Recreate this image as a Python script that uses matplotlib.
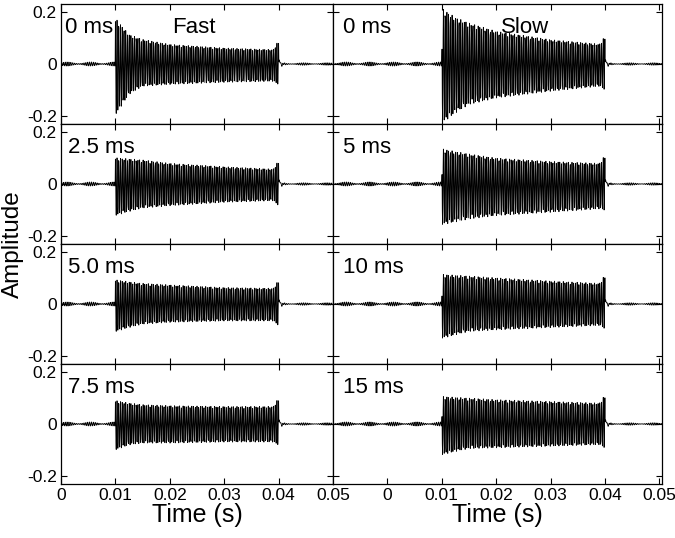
import numpy as np
import matplotlib
matplotlib.use('Agg')
import matplotlib.pyplot as plt

plt.rcParams['font.family'] = ['Liberation Sans', 'DejaVu Sans']

# envelope read-outs (seconds / amplitude) for every panel
env_times = [0.0102, 0.0125, 0.015, 0.02, 0.03, 0.039, 0.0398]

fast_labels = ['0 ms', '2.5 ms', '5.0 ms', '7.5 ms']
fast_upper = [[0.170, 0.113, 0.094, 0.075, 0.061, 0.055, 0.083],
              [0.100, 0.096, 0.092, 0.079, 0.066, 0.057, 0.083],
              [0.092, 0.085, 0.079, 0.073, 0.063, 0.060, 0.085],
              [0.089, 0.080, 0.074, 0.070, 0.067, 0.067, 0.093]]
fast_lower = [[-0.190, -0.116, -0.085, -0.078, -0.070, -0.066, -0.077],
              [-0.120, -0.105, -0.092, -0.083, -0.070, -0.064, -0.080],
              [-0.105, -0.090, -0.077, -0.070, -0.065, -0.065, -0.080],
              [-0.098, -0.080, -0.073, -0.073, -0.069, -0.069, -0.079]]

slow_labels = ['0 ms', '5 ms', '10 ms', '15 ms']
slow_upper = [[0.210, 0.178, 0.157, 0.125, 0.093, 0.076, 0.100],
              [0.134, 0.124, 0.115, 0.099, 0.086, 0.079, 0.104],
              [0.113, 0.110, 0.107, 0.100, 0.088, 0.079, 0.105],
              [0.105, 0.102, 0.099, 0.093, 0.086, 0.080, 0.105]]
slow_lower = [[-0.225, -0.187, -0.155, -0.130, -0.104, -0.085, -0.097],
              [-0.155, -0.145, -0.134, -0.121, -0.108, -0.095, -0.100],
              [-0.131, -0.118, -0.105, -0.099, -0.090, -0.082, -0.093],
              [-0.117, -0.105, -0.094, -0.091, -0.085, -0.079, -0.090]]

tone_on, tone_off = 0.010, 0.040
carrier_hz = 3130
sample_rate = 20000
noise_amp = 0.008
ring_amp = 0.02

xticks = [0, 0.01, 0.02, 0.03, 0.04, 0.05]
yticks = [-0.2, 0, 0.2]


def waveform(t, upper, lower):
    phase = np.sin(2 * np.pi * carrier_hz * t)
    up = np.interp(t, env_times, upper)
    lo = -np.interp(t, env_times, lower)
    tone = np.where(phase >= 0, phase * up, phase * lo)
    inside = (t >= tone_on) & (t <= tone_off)
    floor = noise_amp * np.sin(2 * np.pi * 2900 * t) * (0.6 + 0.4 * np.sin(2 * np.pi * 230 * t))
    ring = ring_amp * np.exp(-(t - tone_off) / 0.0004) * np.sin(2 * np.pi * 1200 * (t - tone_off))
    after = t > tone_off
    y = np.where(inside, tone, floor * np.where(after, 0.6, 1.0))
    y = y + np.where(after, ring, 0)
    return y


W, H = 675, 538
fig = plt.figure(figsize=(W / 100, H / 100), dpi=100)

cols = [(61, 333, (0, 0.05), fast_labels, fast_upper, fast_lower, 'Fast', 0.49),
        (333, 662, (-0.01, 0.0505), slow_labels, slow_upper, slow_lower, 'Slow', 0.584)]
row_top, row_h = 4, 120

for ci, (x0, x1, xlim, labels, uppers, lowers, title, tx) in enumerate(cols):
    t = np.arange(xlim[0], xlim[1], 1 / sample_rate)
    for r in range(4):
        top = row_top + r * row_h
        ax = fig.add_axes([x0 / W, 1 - (top + row_h) / H, (x1 - x0) / W, row_h / H])
        ax.plot(t, waveform(t, uppers[r], lowers[r]), color='black', lw=0.6)
        ax.set_xlim(*xlim)
        ax.set_ylim(-0.229, 0.229)
        ax.set_xticks(xticks)
        ax.set_yticks(yticks)
        ax.tick_params(direction='in', top=True, right=True, length=4, width=0.8,
                       labelsize=12.5, pad=3)
        for s in ax.spines.values():
            s.set_linewidth(0.9)
        ax.set_yticklabels(['-0.2', '0', '0.2'] if ci == 0 else [])
        if r == 3:
            ax.set_xticklabels(['0', '0.01', '0.02', '0.03', '0.04', '0.05'])
            ax.set_xlabel('Time (s)', fontsize=18, labelpad=0)
        else:
            ax.set_xticklabels([])
        lx = 0.015 if (ci == 0 and r == 0) else (0.027 if ci == 0 else 0.03)
        ax.text(lx, 0.76, labels[r], transform=ax.transAxes, fontsize=16, va='baseline')
        if r == 0:
            ax.text(tx, 0.76, title, transform=ax.transAxes, fontsize=16,
                    va='baseline', ha='center')

fig.text(13 / W, 1 - 244 / H, 'Amplitude', rotation=90, fontsize=17.5, ha='center', va='center')

fig.savefig('out.png', dpi=100)
